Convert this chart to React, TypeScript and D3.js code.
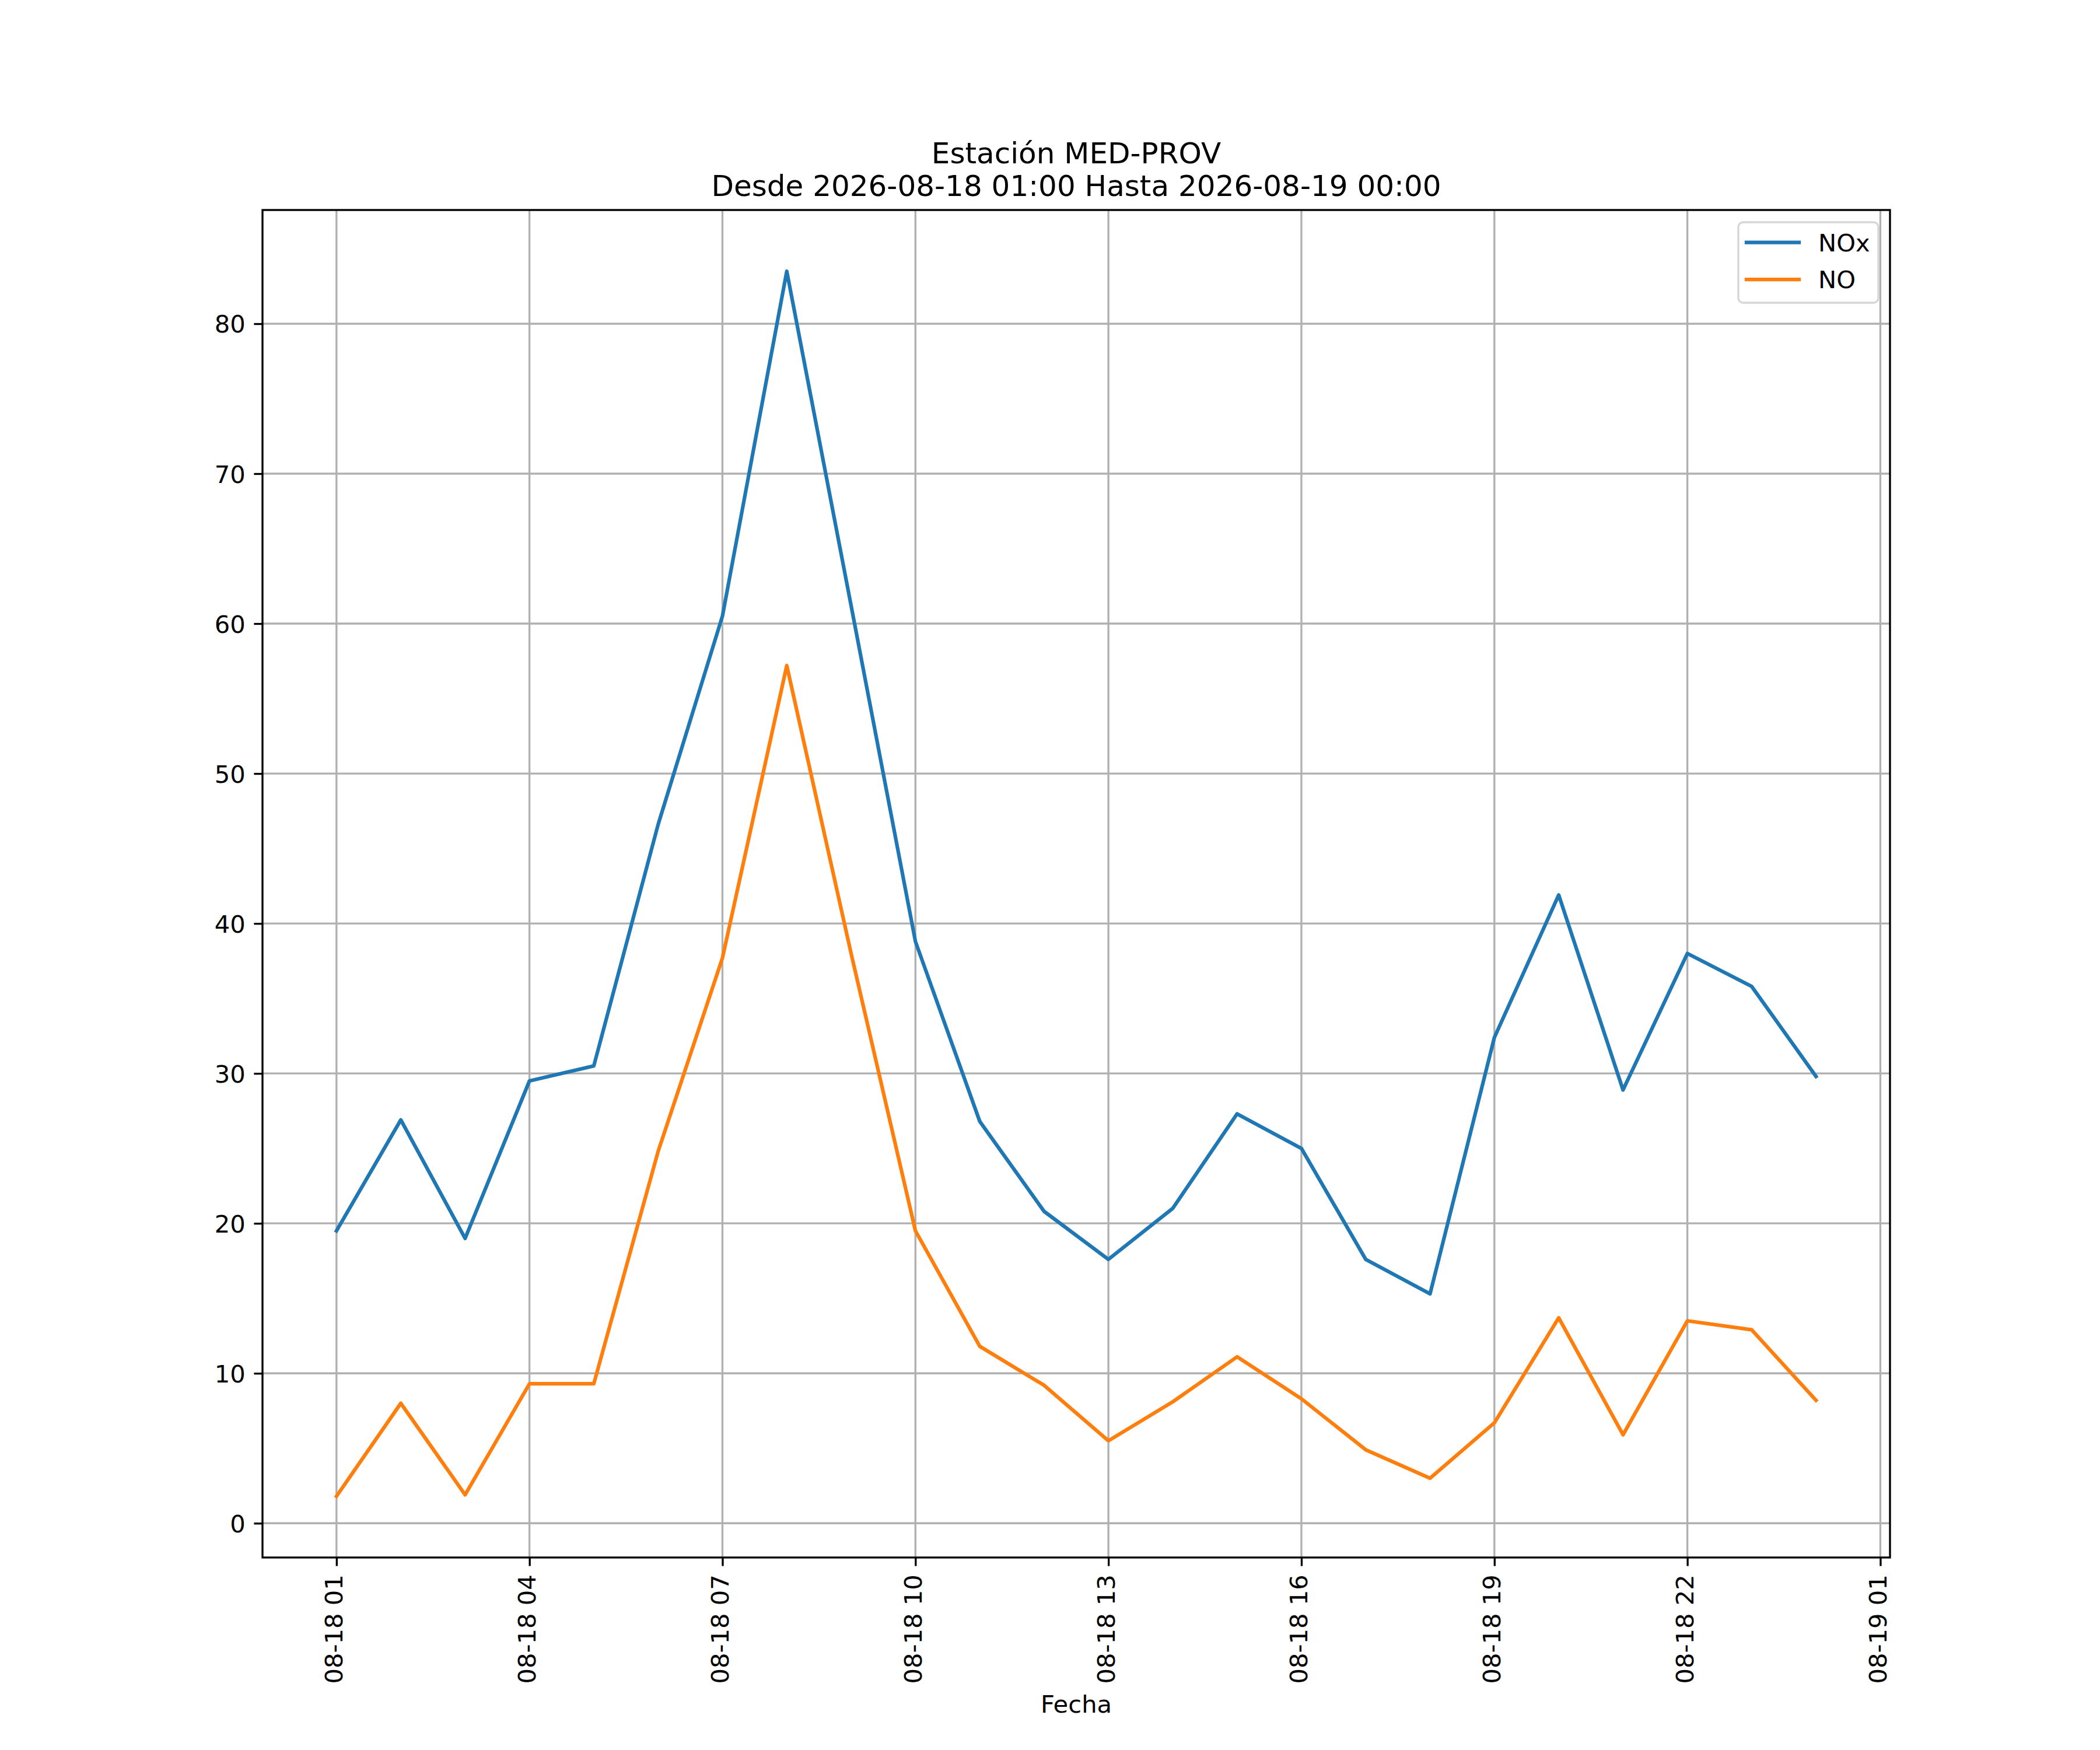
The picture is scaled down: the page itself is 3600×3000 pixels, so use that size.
import { useEffect, useRef } from 'react';
import * as d3 from 'd3';

// Hourly timestamps (station MED-PROV)
const timestamps = [
  '2026-08-18 01:00', '2026-08-18 02:00', '2026-08-18 03:00', '2026-08-18 04:00',
  '2026-08-18 05:00', '2026-08-18 06:00', '2026-08-18 07:00', '2026-08-18 08:00',
  '2026-08-18 09:00', '2026-08-18 10:00', '2026-08-18 11:00', '2026-08-18 12:00',
  '2026-08-18 13:00', '2026-08-18 14:00', '2026-08-18 15:00', '2026-08-18 16:00',
  '2026-08-18 17:00', '2026-08-18 18:00', '2026-08-18 19:00', '2026-08-18 20:00',
  '2026-08-18 21:00', '2026-08-18 22:00', '2026-08-18 23:00', '2026-08-19 00:00'
];

const noxValues = [
  19.5, 26.9, 19.0, 29.5, 30.5, 46.6, 60.5, 83.5, 61.2, 38.8, 26.8, 20.8,
  17.6, 21.0, 27.3, 25.0, 17.6, 15.3, 32.4, 41.9, 28.9, 38.0, 35.8, 29.8
];

const noValues = [
  1.8, 8.0, 1.9, 9.3, 9.3, 24.8, 37.7, 57.2, 38.0, 19.5, 11.8, 9.2,
  5.5, 8.1, 11.1, 8.3, 4.9, 3.0, 6.7, 13.7, 5.9, 13.5, 12.9, 8.2
];

const yTicks = [0, 10, 20, 30, 40, 50, 60, 70, 80];

const xTickLabels = [
  '2026-08-18 01:00', '2026-08-18 04:00', '2026-08-18 07:00', '2026-08-18 10:00',
  '2026-08-18 13:00', '2026-08-18 16:00', '2026-08-18 19:00', '2026-08-18 22:00',
  '2026-08-19 01:00'
];

const seriesNames = ['NOx', 'NO'];
const seriesColors = ['#1f77b4', '#ff7f0e'];

export default function App() {
  const svgRef = useRef<SVGSVGElement>(null);

  useEffect(() => {
    if (!svgRef.current) return;
    const root = d3.select(svgRef.current);
    root.selectAll('*').remove();

    const W = 3600;
    const H = 3000;
    const margin = { top: 360, right: 360, bottom: 330, left: 450 };
    const width = W - margin.left - margin.right;
    const height = H - margin.top - margin.bottom;
    const font = 'DejaVu Sans, sans-serif';
    const fs = 41.67;
    const lw = 3.33;

    const parse = d3.utcParse('%Y-%m-%d %H:%M');
    const dates = timestamps.map(t => parse(t) as Date);
    const series = [noxValues, noValues];

    // 5% padding like matplotlib
    const t0 = +dates[0];
    const t1 = +dates[dates.length - 1];
    const tPad = (t1 - t0) * 0.05;
    const allVals = [...noxValues, ...noValues];
    const vMin = d3.min(allVals) as number;
    const vMax = d3.max(allVals) as number;
    const vPad = (vMax - vMin) * 0.05;

    const x = d3.scaleUtc()
      .domain([new Date(t0 - tPad), new Date(t1 + tPad)])
      .range([0, width]);
    const y = d3.scaleLinear()
      .domain([vMin - vPad, vMax + vPad])
      .range([height, 0]);

    const svg = root
      .attr('width', W)
      .attr('height', H)
      .append('g')
      .attr('transform', `translate(${margin.left},${margin.top})`);

    const xTickDates = xTickLabels.map(t => parse(t) as Date);
    const fmt = d3.utcFormat('%m-%d %H');

    // Grid
    svg.append('g')
      .selectAll('line')
      .data(xTickDates)
      .enter()
      .append('line')
      .attr('x1', d => x(d))
      .attr('x2', d => x(d))
      .attr('y1', 0)
      .attr('y2', height)
      .attr('stroke', '#b0b0b0')
      .attr('stroke-width', lw);

    svg.append('g')
      .selectAll('line')
      .data(yTicks)
      .enter()
      .append('line')
      .attr('x1', 0)
      .attr('x2', width)
      .attr('y1', d => y(d))
      .attr('y2', d => y(d))
      .attr('stroke', '#b0b0b0')
      .attr('stroke-width', lw);

    // Lines
    const line = d3.line<number>()
      .x((_, i) => x(dates[i]))
      .y(d => y(d));

    series.forEach((vals, i) => {
      svg.append('path')
        .datum(vals)
        .attr('d', line)
        .attr('fill', 'none')
        .attr('stroke', seriesColors[i])
        .attr('stroke-width', 6.25)
        .attr('stroke-linejoin', 'round')
        .attr('stroke-linecap', 'square');
    });

    // Frame
    svg.append('rect')
      .attr('x', 0)
      .attr('y', 0)
      .attr('width', width)
      .attr('height', height)
      .attr('fill', 'none')
      .attr('stroke', '#000')
      .attr('stroke-width', lw);

    // X axis
    const xAxis = d3.axisBottom(x)
      .tickValues(xTickDates)
      .tickFormat(d => fmt(d as Date))
      .tickSize(14.6)
      .tickPadding(14.6);

    const gx = svg.append('g')
      .attr('transform', `translate(0,${height})`)
      .call(xAxis);
    gx.select('.domain').remove();
    gx.selectAll('line').attr('stroke', '#000').attr('stroke-width', lw);
    gx.selectAll('text')
      .attr('font-family', font)
      .attr('font-size', fs)
      .attr('fill', '#000')
      .attr('transform', 'rotate(-90)')
      .attr('text-anchor', 'end')
      .attr('x', -29.2)
      .attr('y', 0)
      .attr('dy', '0.24em');

    // Y axis
    const yAxis = d3.axisLeft(y)
      .tickValues(yTicks)
      .tickFormat(d => `${d}`)
      .tickSize(14.6)
      .tickPadding(14.6);

    const gy = svg.append('g').call(yAxis);
    gy.select('.domain').remove();
    gy.selectAll('line').attr('stroke', '#000').attr('stroke-width', lw);
    gy.selectAll('text')
      .attr('font-family', font)
      .attr('font-size', fs)
      .attr('fill', '#000')
      .attr('dy', '0.36em');

    // Title
    const title = root.append('text')
      .attr('x', margin.left + width / 2)
      .attr('text-anchor', 'middle')
      .attr('font-family', font)
      .attr('font-size', 50)
      .attr('fill', '#000');
    title.append('tspan')
      .attr('x', margin.left + width / 2)
      .attr('y', 280)
      .text('Estación MED-PROV');
    title.append('tspan')
      .attr('x', margin.left + width / 2)
      .attr('y', 336)
      .text('Desde 2026-08-18 01:00 Hasta 2026-08-19 00:00');

    // X label
    root.append('text')
      .attr('x', margin.left + width / 2)
      .attr('y', 2936)
      .attr('text-anchor', 'middle')
      .attr('font-family', font)
      .attr('font-size', fs)
      .attr('fill', '#000')
      .text('Fecha');

    // Legend
    const legend = root.append('g')
      .attr('transform', 'translate(2980, 381)');

    legend.append('rect')
      .attr('width', 240)
      .attr('height', 138)
      .attr('rx', 8.3)
      .attr('fill', '#fff')
      .attr('fill-opacity', 0.8)
      .attr('stroke', '#d6d6d6')
      .attr('stroke-width', lw);

    seriesNames.forEach((name, i) => {
      const rowY = 34.7 + i * 63.3;
      legend.append('line')
        .attr('x1', 14)
        .attr('x2', 104)
        .attr('y1', rowY)
        .attr('y2', rowY)
        .attr('stroke', seriesColors[i])
        .attr('stroke-width', 6.25)
        .attr('stroke-linecap', 'square');
      legend.append('text')
        .attr('x', 137)
        .attr('y', rowY)
        .attr('dy', '0.36em')
        .attr('font-family', font)
        .attr('font-size', fs)
        .attr('fill', '#000')
        .text(name);
    });
  }, []);

  return (
    <svg
      ref={svgRef}
      style={{ position: 'absolute', left: 0, top: 0, display: 'block', background: '#fff' }}
    />
  );
}
